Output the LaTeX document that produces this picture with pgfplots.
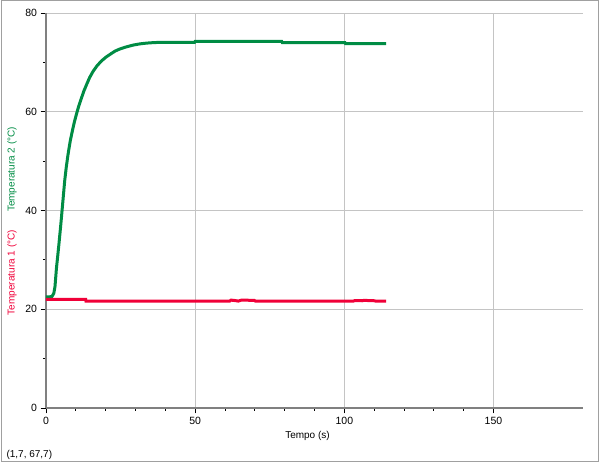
\documentclass[border=0pt]{standalone}
\usepackage{pgfplots}
\pgfplotsset{compat=1.18}
\usepackage{fontspec}
\setmainfont{Liberation Sans}
\definecolor{tgreen}{RGB}{0,140,68}
\definecolor{tred}{RGB}{240,0,56}
\definecolor{axgray}{RGB}{128,128,128}
\definecolor{gridgray}{RGB}{196,196,196}
\definecolor{framegray}{RGB}{160,160,160}
\begin{document}
\begin{tikzpicture}[x=1pt,y=1pt]
\useasboundingbox (0,0) rectangle (600,463);
\draw[framegray, line width=1pt] (1,1.5) rectangle (598.5,462);
\begin{axis}[
  at={(46pt,55pt)}, anchor=south west,
  scale only axis, width=537pt, height=395pt,
  xmin=0, xmax=180, ymin=0, ymax=80,
  axis x line=bottom, axis y line=left,
  axis line style={-, axgray, line width=2pt},
  xtick={0,50,100,150}, ytick={0,20,40,60,80},
  minor x tick num=4, minor y tick num=1,
  tick align=outside,
  major tick length=5.5pt, minor tick length=3pt,
  every tick/.style={black, line width=0.8pt},
  grid=major,
  major grid style={gridgray, line width=0.8pt},
  tick label style={font=\fontsize{10.5}{12}\selectfont},
  /pgf/number format/assume math mode=true,
  xlabel={Tempo (s)},
  xlabel style={at={(axis description cs:0.5,0)}, anchor=center, yshift=-28pt, xshift=-7pt, font=\fontsize{10}{12}\selectfont},
  clip=false,
]
\addplot[tgreen, line width=3pt] coordinates {
(0,22.5)(1,22.5)(2,22.6)(2.6,23.2)(3,24.5)(3.5,28.3)(4,31.2)(4.4,33.6)(5,37.4)(5.4,40.1)(6,44.2)(6.3,46.2)(6.8,48.8)(7.4,51.4)(8.1,54.0)(8.9,56.3)(9.5,57.9)(10.2,59.5)(11,61.2)(11.9,62.8)(12.7,64.2)(13.6,65.5)(14.6,66.9)(15.8,68.2)(17.1,69.3)(18.6,70.3)(20.2,71.1)(21.9,71.8)(23.2,72.3)(24.7,72.7)(27,73.15)(29.2,73.5)(31.5,73.75)(33.7,73.9)(36,74.0)(38,74.05)(49.8,74.05)(50,74.25)(79,74.25)(79.2,74.0)(100.2,74.0)(100.4,73.8)(114,73.8)
};
\addplot[tred, line width=3pt] coordinates {
(0,22.0)(13.3,22.0)(13.4,21.65)(61.6,21.65)(62,21.85)(63.5,21.75)(64.5,21.65)(65.5,21.85)(69.8,21.8)(70.2,21.65)(103,21.65)(103.5,21.75)(106,21.72)(106.5,21.8)(110,21.72)(110.5,21.65)(114,21.65)
};
\end{axis}
\node[rotate=90, anchor=center, font=\fontsize{10}{12}\selectfont] at (12,242)
  {\textcolor{tred}{Temperatura 1 (°C)}\hspace{18pt}\textcolor{tgreen}{Temperatura 2 (°C)}};
\node[anchor=west, font=\fontsize{10}{12}\selectfont] at (3,8) {(1,7, 67,7)};
\end{tikzpicture}
\end{document}
